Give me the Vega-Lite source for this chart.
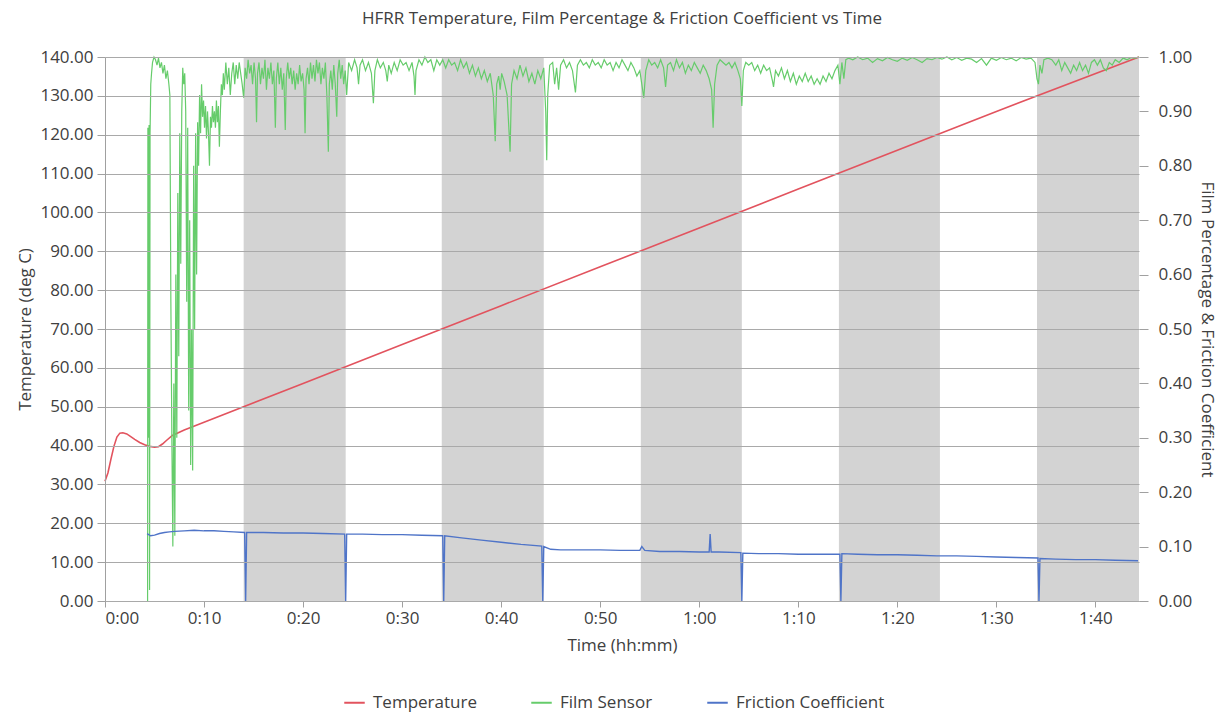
{
  "$schema": "https://vega.github.io/schema/vega-lite/v6.json",
  "width": 1034,
  "height": 544,
  "autosize": {"type": "none"},
  "padding": {"left": 105, "top": 57, "right": 81, "bottom": 114},
  "background": "white",
  "title": {"text": "HFRR Temperature, Film Percentage & Friction Coefficient vs Time", "fontSize": 17, "fontWeight": "normal", "color": "#404040", "font": "Open Sans", "offset": 20, "anchor": "middle"},
  "datasets": {
    "bands": [
      {"start": 14.0, "end": 24.3},
      {"start": 34.0, "end": 44.3},
      {"start": 54.1, "end": 64.3},
      {"start": 74.1, "end": 84.3},
      {"start": 94.1, "end": 104.4}
    ],
    "temp": [
      {"time": 0, "temp": 30.8, "series": "Temperature"},
      {"time": 0.3, "temp": 33.0, "series": "Temperature"},
      {"time": 0.6, "temp": 36.5, "series": "Temperature"},
      {"time": 0.9, "temp": 39.8, "series": "Temperature"},
      {"time": 1.2, "temp": 42.2, "series": "Temperature"},
      {"time": 1.5, "temp": 43.2, "series": "Temperature"},
      {"time": 1.8, "temp": 43.3, "series": "Temperature"},
      {"time": 2.2, "temp": 43.0, "series": "Temperature"},
      {"time": 2.6, "temp": 42.3, "series": "Temperature"},
      {"time": 3.0, "temp": 41.6, "series": "Temperature"},
      {"time": 3.5, "temp": 40.8, "series": "Temperature"},
      {"time": 4.0, "temp": 40.2, "series": "Temperature"},
      {"time": 4.5, "temp": 39.8, "series": "Temperature"},
      {"time": 5.0, "temp": 39.6, "series": "Temperature"},
      {"time": 5.4, "temp": 39.7, "series": "Temperature"},
      {"time": 5.8, "temp": 40.4, "series": "Temperature"},
      {"time": 6.2, "temp": 41.3, "series": "Temperature"},
      {"time": 6.8, "temp": 42.6, "series": "Temperature"},
      {"time": 8, "temp": 44.0, "series": "Temperature"},
      {"time": 10, "temp": 46.0, "series": "Temperature"},
      {"time": 20, "temp": 56.0, "series": "Temperature"},
      {"time": 30, "temp": 66.0, "series": "Temperature"},
      {"time": 40, "temp": 76.0, "series": "Temperature"},
      {"time": 50, "temp": 86.0, "series": "Temperature"},
      {"time": 60, "temp": 96.0, "series": "Temperature"},
      {"time": 70, "temp": 106.0, "series": "Temperature"},
      {"time": 80, "temp": 116.0, "series": "Temperature"},
      {"time": 90, "temp": 126.0, "series": "Temperature"},
      {"time": 104.4, "temp": 140.0, "series": "Temperature"}
    ],
    "fric": [
      {"time": 4.25, "value": 0.124}, {"time": 4.6, "value": 0.12}, {"time": 5.0, "value": 0.121}, {"time": 5.5, "value": 0.124},
      {"time": 6.0, "value": 0.126}, {"time": 6.5, "value": 0.127}, {"time": 7.0, "value": 0.128}, {"time": 8, "value": 0.129},
      {"time": 9, "value": 0.13}, {"time": 10, "value": 0.129}, {"time": 11, "value": 0.129}, {"time": 12, "value": 0.128},
      {"time": 13, "value": 0.127}, {"time": 14.1, "value": 0.126}, {"time": 14.2, "value": 0.0}, {"time": 14.3, "value": 0.126},
      {"time": 16, "value": 0.126}, {"time": 18, "value": 0.125}, {"time": 20, "value": 0.125}, {"time": 22, "value": 0.124},
      {"time": 24.2, "value": 0.123}, {"time": 24.3, "value": 0.0}, {"time": 24.4, "value": 0.123}, {"time": 26, "value": 0.123},
      {"time": 28, "value": 0.122}, {"time": 30, "value": 0.122}, {"time": 32, "value": 0.121}, {"time": 34.1, "value": 0.12},
      {"time": 34.2, "value": 0.0}, {"time": 34.3, "value": 0.12}, {"time": 36, "value": 0.116}, {"time": 38, "value": 0.112},
      {"time": 40, "value": 0.108}, {"time": 42, "value": 0.104}, {"time": 44.1, "value": 0.101}, {"time": 44.2, "value": 0.0},
      {"time": 44.3, "value": 0.1}, {"time": 45, "value": 0.095}, {"time": 46, "value": 0.094}, {"time": 48, "value": 0.094},
      {"time": 50, "value": 0.094}, {"time": 52, "value": 0.093}, {"time": 54, "value": 0.093}, {"time": 54.2, "value": 0.1},
      {"time": 54.5, "value": 0.093}, {"time": 56, "value": 0.091}, {"time": 58, "value": 0.091}, {"time": 60, "value": 0.09},
      {"time": 61.0, "value": 0.09}, {"time": 61.1, "value": 0.123}, {"time": 61.2, "value": 0.09}, {"time": 62, "value": 0.09},
      {"time": 64.2, "value": 0.089}, {"time": 64.3, "value": 0.0}, {"time": 64.4, "value": 0.088}, {"time": 66, "value": 0.087},
      {"time": 68, "value": 0.087}, {"time": 70, "value": 0.086}, {"time": 72, "value": 0.086}, {"time": 74.2, "value": 0.086},
      {"time": 74.3, "value": 0.0}, {"time": 74.4, "value": 0.087}, {"time": 76, "value": 0.086}, {"time": 78, "value": 0.085},
      {"time": 80, "value": 0.085}, {"time": 82, "value": 0.084}, {"time": 84, "value": 0.083}, {"time": 86, "value": 0.083},
      {"time": 88, "value": 0.082}, {"time": 90, "value": 0.081}, {"time": 92, "value": 0.08}, {"time": 94.2, "value": 0.079},
      {"time": 94.3, "value": 0.0}, {"time": 94.4, "value": 0.078}, {"time": 96, "value": 0.077}, {"time": 98, "value": 0.076},
      {"time": 100, "value": 0.076}, {"time": 102, "value": 0.075}, {"time": 104.3, "value": 0.074}
    ],
    "film": [
      {"time": 4.30, "value": 0.0}, {"time": 4.33, "value": 0.87}, {"time": 4.40, "value": 0.30}, {"time": 4.45, "value": 0.875},
      {"time": 4.50, "value": 0.02}, {"time": 4.55, "value": 0.86}, {"time": 4.62, "value": 0.95}, {"time": 4.70, "value": 0.97},
      {"time": 4.80, "value": 0.99}, {"time": 4.95, "value": 1.0}, {"time": 5.10, "value": 0.995}, {"time": 5.25, "value": 0.985},
      {"time": 5.40, "value": 0.998}, {"time": 5.55, "value": 0.98}, {"time": 5.70, "value": 0.99}, {"time": 5.85, "value": 0.97},
      {"time": 6.00, "value": 0.985}, {"time": 6.15, "value": 0.96}, {"time": 6.30, "value": 0.975}, {"time": 6.45, "value": 0.95},
      {"time": 6.55, "value": 0.93}, {"time": 6.65, "value": 0.55}, {"time": 6.75, "value": 0.30}, {"time": 6.85, "value": 0.10},
      {"time": 6.95, "value": 0.40}, {"time": 7.05, "value": 0.12}, {"time": 7.15, "value": 0.60}, {"time": 7.25, "value": 0.30},
      {"time": 7.35, "value": 0.75}, {"time": 7.45, "value": 0.45}, {"time": 7.55, "value": 0.86}, {"time": 7.65, "value": 0.62},
      {"time": 7.75, "value": 0.90}, {"time": 7.85, "value": 0.98}, {"time": 7.95, "value": 0.95}, {"time": 8.05, "value": 0.97},
      {"time": 8.15, "value": 0.90}, {"time": 8.25, "value": 0.55}, {"time": 8.35, "value": 0.87}, {"time": 8.45, "value": 0.35},
      {"time": 8.55, "value": 0.70}, {"time": 8.65, "value": 0.25}, {"time": 8.75, "value": 0.50}, {"time": 8.85, "value": 0.24},
      {"time": 8.95, "value": 0.80}, {"time": 9.05, "value": 0.50}, {"time": 9.15, "value": 0.86}, {"time": 9.25, "value": 0.60},
      {"time": 9.35, "value": 0.88}, {"time": 9.45, "value": 0.80}, {"time": 9.55, "value": 0.93}, {"time": 9.65, "value": 0.86},
      {"time": 9.75, "value": 0.95}, {"time": 9.85, "value": 0.89}, {"time": 9.95, "value": 0.92}, {"time": 10.05, "value": 0.87},
      {"time": 10.15, "value": 0.91}, {"time": 10.25, "value": 0.85}, {"time": 10.35, "value": 0.90}, {"time": 10.45, "value": 0.86},
      {"time": 10.55, "value": 0.80}, {"time": 10.65, "value": 0.89}, {"time": 10.75, "value": 0.87}, {"time": 10.85, "value": 0.91},
      {"time": 10.95, "value": 0.88}, {"time": 11.05, "value": 0.90}, {"time": 11.15, "value": 0.87}, {"time": 11.25, "value": 0.92},
      {"time": 11.35, "value": 0.88}, {"time": 11.45, "value": 0.91}, {"time": 11.55, "value": 0.835}, {"time": 11.65, "value": 0.90},
      {"time": 11.75, "value": 0.95}, {"time": 11.85, "value": 0.93}, {"time": 11.95, "value": 0.97}, {"time": 12.05, "value": 0.94},
      {"time": 12.2, "value": 0.99}, {"time": 12.35, "value": 0.95}, {"time": 12.5, "value": 0.98}, {"time": 12.65, "value": 0.93},
      {"time": 12.8, "value": 0.97}, {"time": 12.95, "value": 0.99}, {"time": 13.1, "value": 0.95}, {"time": 13.25, "value": 0.985},
      {"time": 13.4, "value": 0.96}, {"time": 13.55, "value": 0.99}, {"time": 13.7, "value": 0.97}, {"time": 13.85, "value": 0.95},
      {"time": 14.0, "value": 0.925}, {"time": 14.15, "value": 0.98}, {"time": 14.3, "value": 0.96}, {"time": 14.45, "value": 0.995},
      {"time": 14.6, "value": 0.97}, {"time": 14.75, "value": 0.985}, {"time": 14.9, "value": 0.95}, {"time": 15.05, "value": 0.99},
      {"time": 15.2, "value": 0.96}, {"time": 15.3, "value": 0.88}, {"time": 15.4, "value": 0.97}, {"time": 15.55, "value": 0.99},
      {"time": 15.7, "value": 0.95}, {"time": 15.85, "value": 0.98}, {"time": 16.0, "value": 0.96}, {"time": 16.15, "value": 0.995},
      {"time": 16.3, "value": 0.94}, {"time": 16.45, "value": 0.98}, {"time": 16.6, "value": 0.96}, {"time": 16.75, "value": 0.99},
      {"time": 16.9, "value": 0.95}, {"time": 17.05, "value": 0.975}, {"time": 17.2, "value": 0.87}, {"time": 17.3, "value": 0.96},
      {"time": 17.45, "value": 0.99}, {"time": 17.6, "value": 0.95}, {"time": 17.75, "value": 0.98}, {"time": 17.9, "value": 0.94},
      {"time": 18.05, "value": 0.97}, {"time": 18.2, "value": 0.866}, {"time": 18.3, "value": 0.96}, {"time": 18.45, "value": 0.99},
      {"time": 18.6, "value": 0.96}, {"time": 18.75, "value": 0.98}, {"time": 18.9, "value": 0.95}, {"time": 19.05, "value": 0.975},
      {"time": 19.2, "value": 0.94}, {"time": 19.35, "value": 0.97}, {"time": 19.5, "value": 0.95}, {"time": 19.65, "value": 0.985},
      {"time": 19.8, "value": 0.955}, {"time": 19.95, "value": 0.97}, {"time": 20.1, "value": 0.94}, {"time": 20.2, "value": 0.86},
      {"time": 20.3, "value": 0.96}, {"time": 20.45, "value": 0.98}, {"time": 20.6, "value": 0.95}, {"time": 20.75, "value": 0.99},
      {"time": 20.9, "value": 0.96}, {"time": 21.05, "value": 0.985}, {"time": 21.2, "value": 0.955}, {"time": 21.35, "value": 0.995},
      {"time": 21.5, "value": 0.97}, {"time": 21.65, "value": 0.99}, {"time": 21.8, "value": 0.95}, {"time": 21.95, "value": 0.98},
      {"time": 22.1, "value": 0.96}, {"time": 22.25, "value": 0.99}, {"time": 22.4, "value": 0.93}, {"time": 22.55, "value": 0.826},
      {"time": 22.65, "value": 0.95}, {"time": 22.8, "value": 0.975}, {"time": 22.95, "value": 0.94}, {"time": 23.1, "value": 0.985},
      {"time": 23.25, "value": 0.95}, {"time": 23.4, "value": 0.89}, {"time": 23.5, "value": 0.97}, {"time": 23.65, "value": 0.995},
      {"time": 23.8, "value": 0.96}, {"time": 23.95, "value": 0.985}, {"time": 24.1, "value": 0.95}, {"time": 24.25, "value": 0.975},
      {"time": 24.4, "value": 0.93}, {"time": 24.6, "value": 0.99}, {"time": 24.9, "value": 0.975}, {"time": 25.2, "value": 0.995},
      {"time": 25.45, "value": 0.98}, {"time": 25.6, "value": 0.95}, {"time": 25.75, "value": 0.985}, {"time": 26.0, "value": 0.995},
      {"time": 26.3, "value": 0.975}, {"time": 26.6, "value": 0.99}, {"time": 26.9, "value": 0.97}, {"time": 27.1, "value": 0.915},
      {"time": 27.25, "value": 0.975}, {"time": 27.5, "value": 0.995}, {"time": 27.8, "value": 0.98}, {"time": 28.1, "value": 0.99},
      {"time": 28.35, "value": 0.975}, {"time": 28.5, "value": 0.955}, {"time": 28.65, "value": 0.985}, {"time": 28.9, "value": 0.97},
      {"time": 29.2, "value": 0.99}, {"time": 29.5, "value": 0.975}, {"time": 29.8, "value": 0.995}, {"time": 30.1, "value": 0.985},
      {"time": 30.4, "value": 0.99}, {"time": 30.7, "value": 0.975}, {"time": 31.0, "value": 0.99}, {"time": 31.2, "value": 0.965},
      {"time": 31.3, "value": 0.93}, {"time": 31.4, "value": 0.975}, {"time": 31.7, "value": 0.995}, {"time": 32.0, "value": 0.985},
      {"time": 32.3, "value": 1.0}, {"time": 32.6, "value": 0.99}, {"time": 32.9, "value": 0.995}, {"time": 33.2, "value": 0.975},
      {"time": 33.5, "value": 0.995}, {"time": 33.8, "value": 0.985}, {"time": 34.1, "value": 0.995}, {"time": 34.4, "value": 0.98},
      {"time": 34.7, "value": 0.995}, {"time": 35.0, "value": 0.985}, {"time": 35.3, "value": 0.99}, {"time": 35.6, "value": 0.975},
      {"time": 35.9, "value": 0.995}, {"time": 36.2, "value": 0.98}, {"time": 36.5, "value": 0.99}, {"time": 36.8, "value": 0.97},
      {"time": 37.1, "value": 0.985}, {"time": 37.4, "value": 0.965}, {"time": 37.7, "value": 0.98}, {"time": 38.0, "value": 0.96},
      {"time": 38.3, "value": 0.975}, {"time": 38.6, "value": 0.955}, {"time": 38.9, "value": 0.97}, {"time": 39.2, "value": 0.93},
      {"time": 39.4, "value": 0.845}, {"time": 39.55, "value": 0.95}, {"time": 39.75, "value": 0.965}, {"time": 39.9, "value": 0.94},
      {"time": 40.05, "value": 0.97}, {"time": 40.3, "value": 0.955}, {"time": 40.6, "value": 0.93}, {"time": 40.9, "value": 0.826},
      {"time": 41.05, "value": 0.95}, {"time": 41.3, "value": 0.975}, {"time": 41.6, "value": 0.96}, {"time": 41.9, "value": 0.985},
      {"time": 42.2, "value": 0.965}, {"time": 42.5, "value": 0.98}, {"time": 42.8, "value": 0.955}, {"time": 43.1, "value": 0.97},
      {"time": 43.4, "value": 0.95}, {"time": 43.7, "value": 0.975}, {"time": 44.0, "value": 0.96}, {"time": 44.3, "value": 0.98},
      {"time": 44.5, "value": 0.9}, {"time": 44.6, "value": 0.81}, {"time": 44.7, "value": 0.93}, {"time": 44.9, "value": 0.985},
      {"time": 45.2, "value": 0.99}, {"time": 45.4, "value": 0.95}, {"time": 45.6, "value": 0.98}, {"time": 45.8, "value": 0.94},
      {"time": 46.0, "value": 0.985}, {"time": 46.3, "value": 0.995}, {"time": 46.6, "value": 0.98}, {"time": 46.9, "value": 0.99},
      {"time": 47.2, "value": 0.975}, {"time": 47.5, "value": 0.935}, {"time": 47.7, "value": 0.985}, {"time": 48.0, "value": 0.995},
      {"time": 48.3, "value": 0.985}, {"time": 48.6, "value": 0.99}, {"time": 48.9, "value": 0.98}, {"time": 49.2, "value": 0.995},
      {"time": 49.5, "value": 0.985}, {"time": 49.8, "value": 0.99}, {"time": 50.1, "value": 0.98}, {"time": 50.4, "value": 0.995},
      {"time": 50.7, "value": 0.985}, {"time": 51.0, "value": 0.99}, {"time": 51.3, "value": 0.975}, {"time": 51.6, "value": 0.99},
      {"time": 51.9, "value": 0.98}, {"time": 52.2, "value": 0.995}, {"time": 52.5, "value": 0.985}, {"time": 52.8, "value": 0.975},
      {"time": 53.1, "value": 0.99}, {"time": 53.4, "value": 0.98}, {"time": 53.7, "value": 0.965}, {"time": 54.0, "value": 0.975},
      {"time": 54.2, "value": 0.95}, {"time": 54.4, "value": 0.925}, {"time": 54.6, "value": 0.975}, {"time": 54.9, "value": 0.995},
      {"time": 55.2, "value": 0.985}, {"time": 55.5, "value": 0.99}, {"time": 55.8, "value": 0.98}, {"time": 56.1, "value": 0.995},
      {"time": 56.4, "value": 0.98}, {"time": 56.6, "value": 0.945}, {"time": 56.8, "value": 0.985}, {"time": 57.1, "value": 0.99},
      {"time": 57.4, "value": 0.975}, {"time": 57.7, "value": 0.995}, {"time": 58.0, "value": 0.98}, {"time": 58.3, "value": 0.99},
      {"time": 58.6, "value": 0.97}, {"time": 58.9, "value": 0.985}, {"time": 59.2, "value": 0.975}, {"time": 59.5, "value": 0.99},
      {"time": 59.8, "value": 0.98}, {"time": 60.1, "value": 0.97}, {"time": 60.4, "value": 0.985}, {"time": 60.7, "value": 0.975},
      {"time": 61.0, "value": 0.96}, {"time": 61.25, "value": 0.94}, {"time": 61.4, "value": 0.87}, {"time": 61.55, "value": 0.95},
      {"time": 61.8, "value": 0.985}, {"time": 62.1, "value": 0.995}, {"time": 62.4, "value": 0.99}, {"time": 62.7, "value": 0.985},
      {"time": 63.0, "value": 0.99}, {"time": 63.3, "value": 0.98}, {"time": 63.6, "value": 0.99}, {"time": 63.9, "value": 0.975},
      {"time": 64.15, "value": 0.96}, {"time": 64.3, "value": 0.91}, {"time": 64.45, "value": 0.975}, {"time": 64.7, "value": 0.99},
      {"time": 65.0, "value": 0.985}, {"time": 65.3, "value": 0.99}, {"time": 65.6, "value": 0.975}, {"time": 65.9, "value": 0.985},
      {"time": 66.2, "value": 0.97}, {"time": 66.5, "value": 0.985}, {"time": 66.8, "value": 0.975}, {"time": 67.1, "value": 0.98},
      {"time": 67.4, "value": 0.955}, {"time": 67.5, "value": 0.945}, {"time": 67.7, "value": 0.975}, {"time": 68.0, "value": 0.965},
      {"time": 68.3, "value": 0.98}, {"time": 68.6, "value": 0.96}, {"time": 68.9, "value": 0.975}, {"time": 69.2, "value": 0.955},
      {"time": 69.5, "value": 0.97}, {"time": 69.8, "value": 0.95}, {"time": 70.1, "value": 0.965}, {"time": 70.4, "value": 0.955},
      {"time": 70.7, "value": 0.97}, {"time": 71.0, "value": 0.955}, {"time": 71.3, "value": 0.965}, {"time": 71.6, "value": 0.95},
      {"time": 71.9, "value": 0.96}, {"time": 72.2, "value": 0.95}, {"time": 72.5, "value": 0.965}, {"time": 72.8, "value": 0.955},
      {"time": 73.1, "value": 0.97}, {"time": 73.4, "value": 0.96}, {"time": 73.7, "value": 0.975}, {"time": 74.0, "value": 0.985},
      {"time": 74.2, "value": 0.95}, {"time": 74.4, "value": 0.99}, {"time": 74.6, "value": 0.96}, {"time": 74.8, "value": 0.995},
      {"time": 75.1, "value": 0.998}, {"time": 75.5, "value": 0.995}, {"time": 76.0, "value": 1.0}, {"time": 76.5, "value": 0.995},
      {"time": 77.0, "value": 0.998}, {"time": 77.5, "value": 0.99}, {"time": 78.0, "value": 0.997}, {"time": 78.5, "value": 0.993},
      {"time": 79.0, "value": 0.999}, {"time": 79.5, "value": 0.995}, {"time": 80.0, "value": 0.992}, {"time": 80.5, "value": 0.998},
      {"time": 81.0, "value": 0.994}, {"time": 81.5, "value": 0.999}, {"time": 82.0, "value": 0.995}, {"time": 82.5, "value": 0.99},
      {"time": 83.0, "value": 0.997}, {"time": 83.5, "value": 0.995}, {"time": 84.0, "value": 0.999}, {"time": 84.5, "value": 0.996},
      {"time": 85.0, "value": 1.0}, {"time": 85.5, "value": 0.995}, {"time": 86.0, "value": 0.999}, {"time": 86.5, "value": 0.994},
      {"time": 87.0, "value": 0.998}, {"time": 87.5, "value": 0.996}, {"time": 88.0, "value": 0.99}, {"time": 88.5, "value": 0.997},
      {"time": 89.0, "value": 0.985}, {"time": 89.5, "value": 0.998}, {"time": 90.0, "value": 0.994}, {"time": 90.5, "value": 0.999},
      {"time": 91.0, "value": 0.995}, {"time": 91.5, "value": 0.998}, {"time": 92.0, "value": 0.993}, {"time": 92.5, "value": 0.999},
      {"time": 93.0, "value": 0.996}, {"time": 93.5, "value": 0.998}, {"time": 93.9, "value": 0.99}, {"time": 94.1, "value": 0.96},
      {"time": 94.25, "value": 0.95}, {"time": 94.4, "value": 0.985}, {"time": 94.6, "value": 0.97}, {"time": 94.8, "value": 0.995},
      {"time": 95.2, "value": 0.998}, {"time": 95.6, "value": 0.995}, {"time": 96.0, "value": 0.985}, {"time": 96.3, "value": 0.995},
      {"time": 96.6, "value": 0.975}, {"time": 96.9, "value": 0.99}, {"time": 97.2, "value": 0.98}, {"time": 97.5, "value": 0.97},
      {"time": 97.8, "value": 0.985}, {"time": 98.1, "value": 0.975}, {"time": 98.4, "value": 0.99}, {"time": 98.7, "value": 0.975},
      {"time": 99.0, "value": 0.985}, {"time": 99.3, "value": 0.97}, {"time": 99.6, "value": 0.99}, {"time": 99.9, "value": 0.995},
      {"time": 100.2, "value": 0.985}, {"time": 100.5, "value": 0.995}, {"time": 100.8, "value": 0.98}, {"time": 101.1, "value": 0.975},
      {"time": 101.4, "value": 0.99}, {"time": 101.7, "value": 0.985}, {"time": 102.0, "value": 0.995}, {"time": 102.4, "value": 0.99},
      {"time": 102.8, "value": 0.998}, {"time": 103.2, "value": 0.995}, {"time": 103.6, "value": 0.999}, {"time": 104.0, "value": 0.998},
      {"time": 104.4, "value": 1.0}
    ]
  },
  "config": {
    "font": "Open Sans",
    "view": {"stroke": null},
    "axis": {
      "labelFont": "Open Sans", "labelFontSize": 17, "labelColor": "#404040",
      "titleFont": "Open Sans", "titleFontSize": 17, "titleFontWeight": "normal", "titleColor": "#404040",
      "domainColor": "#a0a0a0", "tickColor": "#a0a0a0", "gridColor": "#a9a9a9", "gridOpacity": 1
    },
    "legend": {
      "labelFont": "Open Sans", "labelFontSize": 17, "labelColor": "#404040",
      "symbolType": "stroke", "symbolStrokeWidth": 2, "symbolSize": 420, "columnPadding": 50, "labelOffset": 7
    }
  },
  "layer": [
    {
      "data": {"name": "bands"},
      "mark": {"type": "rect", "color": "#d3d3d3"},
      "encoding": {
        "x": {"field": "start", "type": "quantitative", "scale": {"domain": [0, 104.4], "nice": false, "zero": false},
              "axis": {"title": "Time (hh:mm)", "values": [0, 10, 20, 30, 40, 50, 60, 70, 80, 90, 100], "grid": false, "tickSize": 6, "labelPadding": 3, "titlePadding": 11,
                       "labelExpr": "floor(datum.value/60) + ':' + (datum.value % 60 < 10 ? '0' : '') + (datum.value % 60)"}},
        "x2": {"field": "end"}
      }
    },
    {
      "data": {"name": "temp"},
      "mark": {"type": "line", "strokeWidth": 1.6},
      "encoding": {
        "x": {"field": "time", "type": "quantitative", "title": "Time (hh:mm)"},
        "y": {"field": "temp", "type": "quantitative", "scale": {"domain": [0, 140], "nice": false},
              "axis": {"orient": "left", "title": "Temperature (deg C)", "values": [0, 10, 20, 30, 40, 50, 60, 70, 80, 90, 100, 110, 120, 130, 140],
                       "format": ".2f", "grid": true, "tickSize": 8, "labelPadding": 4, "titlePadding": 5, "zindex": 1}},
        "color": {"field": "series", "type": "nominal",
                  "scale": {"domain": ["Temperature", "Film Sensor", "Friction Coefficient"], "range": ["#e2535e", "#66cc6b", "#4f74c8"]},
                  "legend": {"title": null, "orient": "none", "direction": "horizontal", "legendX": 238, "legendY": 634}}
      }
    },
    {
      "layer": [
        {
          "data": {"name": "film"},
          "transform": [{"calculate": "'Film Sensor'", "as": "series"}],
          "mark": {"type": "line", "strokeWidth": 1.2},
          "encoding": {
            "x": {"field": "time", "type": "quantitative", "title": "Time (hh:mm)"},
            "y": {"field": "value", "type": "quantitative", "scale": {"domain": [0, 1], "nice": false},
                  "axis": {"orient": "right", "title": "Film Percentage & Friction Coefficient", "values": [0, 0.1, 0.2, 0.3, 0.4, 0.5, 0.6, 0.7, 0.8, 0.9, 1.0],
                           "format": ".2f", "grid": false, "domain": false, "tickSize": 9, "labelPadding": 10, "titlePadding": 6, "titleAngle": 90}},
            "color": {"field": "series", "type": "nominal"}
          }
        },
        {
          "data": {"name": "fric"},
          "transform": [{"calculate": "'Friction Coefficient'", "as": "series"}],
          "mark": {"type": "line", "strokeWidth": 1.4},
          "encoding": {
            "x": {"field": "time", "type": "quantitative", "title": "Time (hh:mm)"},
            "y": {"field": "value", "type": "quantitative"},
            "color": {"field": "series", "type": "nominal"}
          }
        }
      ]
    }
  ],
  "resolve": {"scale": {"y": "independent"}}
}
